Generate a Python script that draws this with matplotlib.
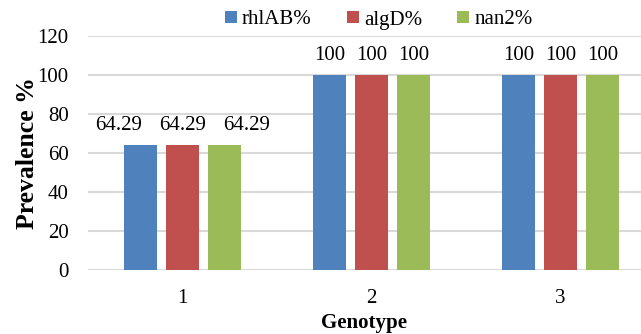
import numpy as np
import matplotlib.pyplot as plt

genotypes = ["1", "2", "3"]
series_names = ["rhlAB%", "algD%", "nan2%"]
rhlab = [64.29, 100, 100]
algd = [64.29, 100, 100]
nan2 = [64.29, 100, 100]
colors = ["#4F81BD", "#C0504D", "#9BBB59"]

plt.rcParams['font.family'] = ['Liberation Serif', 'DejaVu Serif']

def main():
    fig = plt.figure(figsize=(6.41, 3.34), dpi=100)
    W, H = 641, 334
    ax = fig.add_axes([88 / W, (H - 270) / H, (W - 88) / W, (270 - 36) / H])

    x = np.arange(1, len(genotypes) + 1)
    width = 0.176
    step = 0.223
    all_vals = [rhlab, algd, nan2]
    for i, (vals, name) in enumerate(zip(all_vals, series_names)):
        pos = x + (i - 1) * step
        bars = ax.bar(pos, vals, width, color=colors[i], label=name, zorder=3)
        for b, v in zip(bars, vals):
            label = f"{v:g}"
            # spread the long labels sideways so they don't collide (like Excel)
            dx = (i - 1) * 16 if len(label) > 3 else 0
            ax.annotate(label, (b.get_x() + b.get_width() / 2, v),
                        xytext=(dx, 7), textcoords="offset points",
                        ha="center", va="bottom", fontsize=15)

    ax.set_ylim(0, 120)
    ax.set_yticks(range(0, 121, 20))
    ax.set_xlim(0.5, 0.5 + 553 / 189)
    ax.set_xticks(x)
    ax.set_xticklabels(genotypes)
    ax.yaxis.grid(True, color="#D9D9D9", linewidth=1.5, zorder=0)
    ax.set_axisbelow(True)
    for s in ax.spines.values():
        s.set_visible(False)
    ax.tick_params(axis="both", length=0, labelsize=15)
    ax.tick_params(axis="x", pad=14)
    ax.tick_params(axis="y", pad=14)
    ax.set_ylabel("Prevalence %", fontsize=18.5, fontweight="bold", labelpad=-1)
    ax.set_xlabel("Genotype", fontsize=15, fontweight="bold", labelpad=3)

    fig.legend(loc="center", bbox_to_anchor=(0.591, 1 - 20 / H), ncol=3, frameon=False,
               fontsize=15, handlelength=0.55, handleheight=0.55, handletextpad=0.25,
               columnspacing=1.7)
    fig.savefig("out.png", dpi=100)

if __name__ == "__main__":
    main()
